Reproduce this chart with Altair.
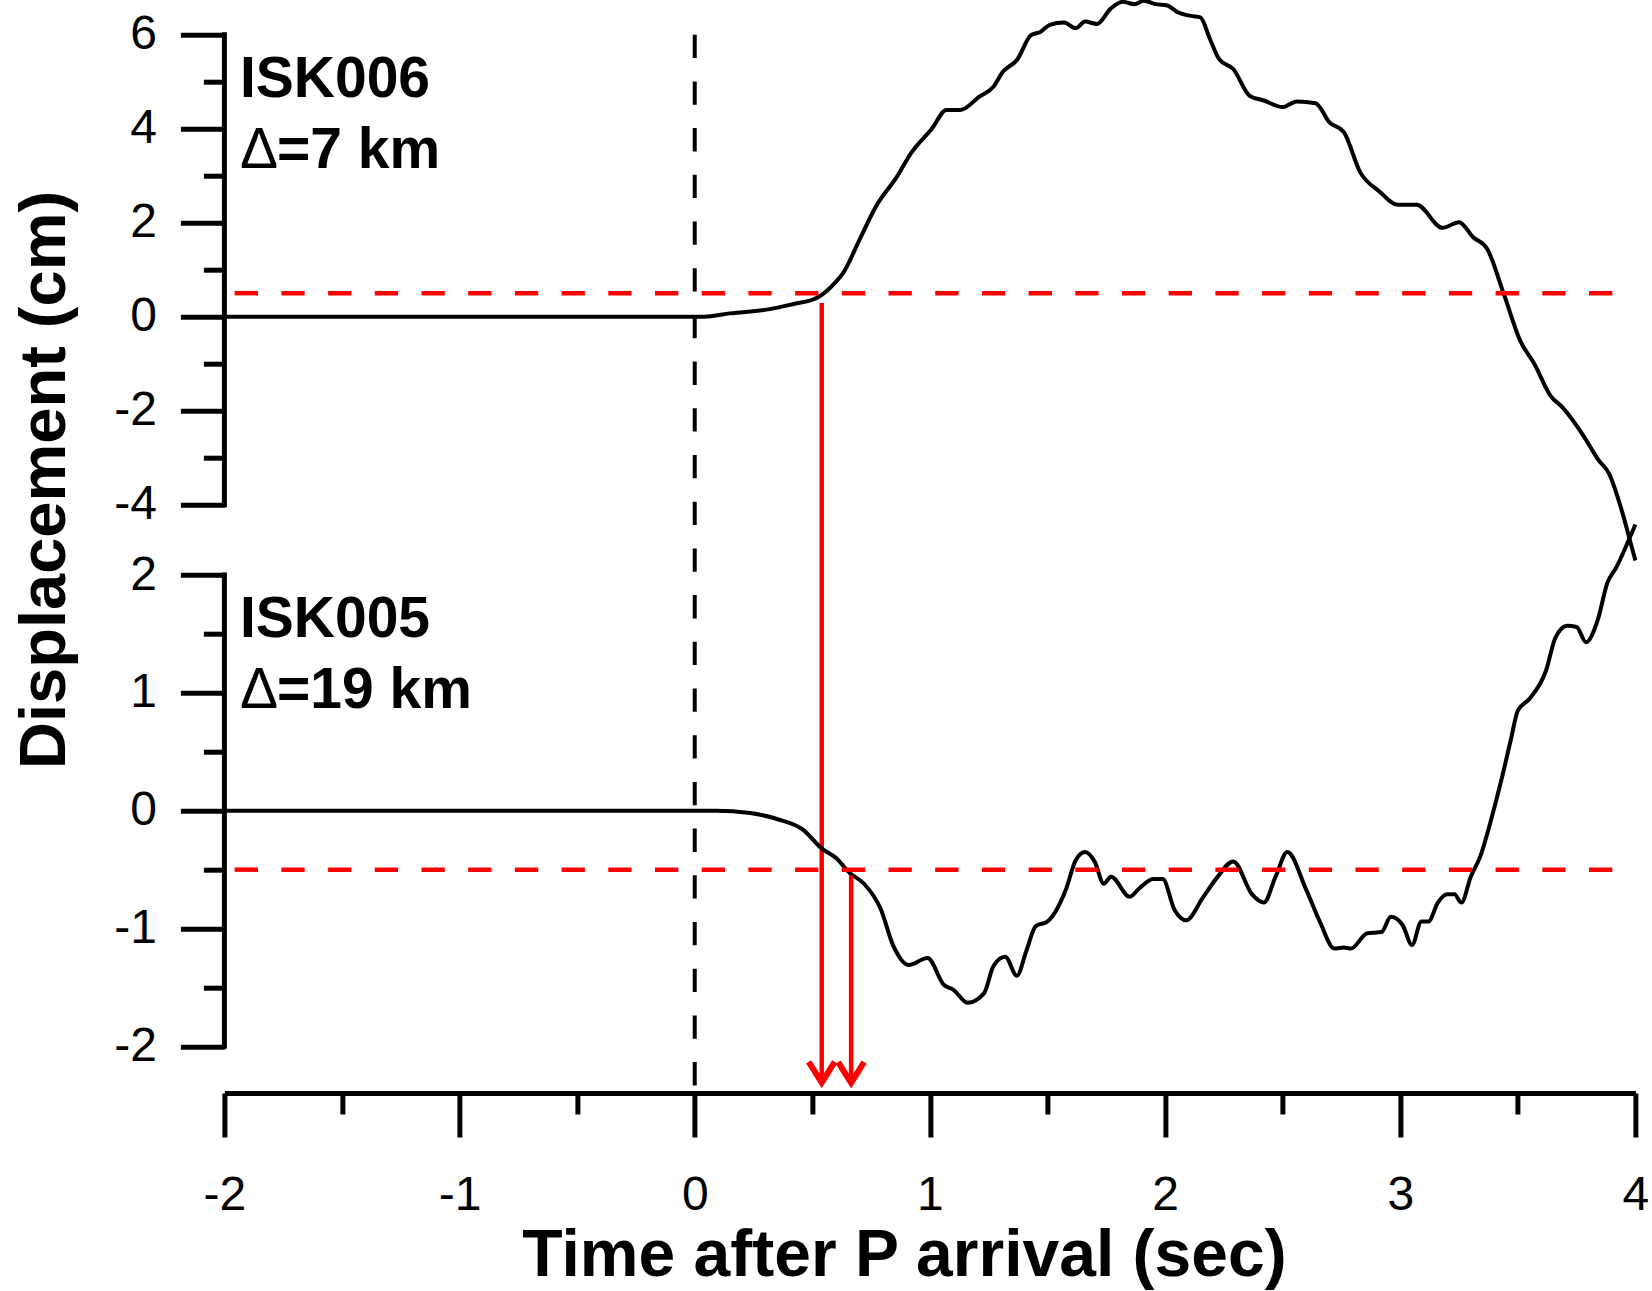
import altair as alt
import pandas as pd

FONT = "Liberation Sans, Arial, sans-serif"

# ---------------- data ----------------
# ISK006 (upper trace), time after P arrival (s) and displacement (cm)
t_isk006 = [-2.0, -1.0, 0.0, 0.04, 0.15, 0.32, 0.43, 0.50, 0.53, 0.60, 0.63, 0.70,
            0.77, 0.86, 0.92, 1.01, 1.07, 1.13, 1.21, 1.27, 1.31, 1.37, 1.43, 1.47,
            1.51, 1.57, 1.62, 1.66, 1.71, 1.77, 1.82, 1.87, 1.91, 1.96, 2.01, 2.05,
            2.11, 2.15, 2.19, 2.23, 2.29, 2.36, 2.42, 2.50, 2.56, 2.64, 2.70, 2.76,
            2.83, 2.91, 2.99, 3.07, 3.18, 3.25, 3.31, 3.37, 3.44, 3.51, 3.57, 3.64,
            3.69, 3.78, 3.84, 3.89, 3.94, 3.98, 4.00]
d_isk006 = [0.0, 0.0, 0.0, 0.0, 0.07, 0.16, 0.28, 0.36, 0.43, 0.74, 0.92, 1.63,
            2.34, 2.98, 3.48, 4.01, 4.40, 4.40, 4.68, 4.89, 5.21, 5.46, 5.99, 6.06,
            6.21, 6.26, 6.14, 6.28, 6.23, 6.56, 6.70, 6.65, 6.72, 6.65, 6.62, 6.49,
            6.40, 6.37, 5.92, 5.48, 5.27, 4.70, 4.60, 4.46, 4.58, 4.54, 4.13, 3.93,
            3.07, 2.67, 2.38, 2.38, 1.89, 2.01, 1.69, 1.44, 0.49, -0.51, -1.00, -1.69,
            -1.93, -2.54, -3.03, -3.36, -4.09, -4.82, -5.19]

# ISK005 (lower trace)
t_isk005 = [-2.0, -1.0, 0.0, 0.09, 0.235, 0.35, 0.46, 0.54, 0.60, 0.66, 0.72, 0.79,
            0.845, 0.91, 0.99, 1.06, 1.10, 1.16, 1.23, 1.27, 1.32, 1.37, 1.41, 1.45,
            1.50, 1.58, 1.62, 1.66, 1.70, 1.74, 1.77, 1.85, 1.89, 1.95, 1.99, 2.04,
            2.09, 2.16, 2.22, 2.29, 2.37, 2.42, 2.47, 2.52, 2.60, 2.66, 2.72, 2.76,
            2.79, 2.86, 2.92, 2.96, 3.01, 3.05, 3.09, 3.12, 3.16, 3.20, 3.23, 3.26,
            3.30, 3.34, 3.39, 3.43, 3.47, 3.50, 3.55, 3.62, 3.66, 3.71, 3.75, 3.79,
            3.84, 3.88, 3.92, 3.97, 4.00]
d_isk005 = [0.0, 0.0, 0.0, 0.0, -0.02, -0.07, -0.16, -0.32, -0.40, -0.53, -0.62, -0.83,
            -1.15, -1.31, -1.25, -1.48, -1.52, -1.63, -1.55, -1.32, -1.24, -1.40, -1.19, -0.98,
            -0.94, -0.66, -0.42, -0.35, -0.43, -0.62, -0.56, -0.73, -0.66, -0.58, -0.58, -0.84,
            -0.93, -0.74, -0.57, -0.43, -0.71, -0.78, -0.56, -0.35, -0.67, -0.95, -1.17, -1.16,
            -1.17, -1.04, -1.03, -0.90, -0.97, -1.14, -0.94, -0.94, -0.78, -0.71, -0.71, -0.78,
            -0.56, -0.39, -0.05, 0.26, 0.60, 0.85, 0.95, 1.19, 1.47, 1.57, 1.56, 1.43,
            1.62, 1.93, 2.07, 2.29, 2.43]

stations = ["ISK006", "ISK005"]
distances = ["=7 km", "=19 km"]
thresholds = [0.5, -0.5]                 # red dashed thresholds (cm)
pick_times = [0.54, 0.665]               # red arrows (s)
pick_start = [0.29, -0.55]               # displacement where each arrow starts

x_ticks = [-2, -1.5, -1, -0.5, 0, 0.5, 1, 1.5, 2, 2.5, 3, 3.5, 4]
top_ticks = [-4, -3, -2, -1, 0, 1, 2, 3, 4, 5, 6]
bot_ticks = [-2, -1.5, -1, -0.5, 0, 0.5, 1, 1.5, 2]

X_DOMAIN = [-2, 4]
TOP_DOMAIN = [-16.52, 6]      # top panel scale (axis drawn from -4 to 6)
BOT_DOMAIN = [-2.396, 6.587]  # bottom panel scale (axis drawn from -2 to 2)

# label anchor positions (data units)
TEXT_T = -1.934
TOP_TEXT_Y = [4.674, 3.164]
BOT_TEXT_Y = [1.475, 0.872]

W, H = 1411, 1058.3

xs = alt.Scale(domain=X_DOMAIN, nice=False, zero=False)
ys_top = alt.Scale(domain=TOP_DOMAIN, nice=False, zero=False)
ys_bot = alt.Scale(domain=BOT_DOMAIN, nice=False, zero=False)

x_axis = alt.Axis(
    values=x_ticks,
    labelExpr="datum.value % 1 === 0 ? '' + datum.value : ''",
    tickSize=44, tickWidth=5, tickColor="black",
    tickDash={"condition": {"test": "datum.value % 1 !== 0", "value": [21, 100]},
              "value": [1000, 1]},
    domainWidth=5, domainColor="black",
    labelFont=FONT, labelFontSize=48, labelColor="black", labelPadding=34,
    labelFlush=False, labelOverlap=False,
    grid=False,
    title="Time after P arrival (sec)", titleFont=FONT, titleFontSize=66,
    titleFontWeight="bold", titleColor="black",
    titleX=679.6, titleY=182, titleBaseline="alphabetic", titleAlign="center",
)


def y_axis(values, parity, title=None):
    kw = dict(
        values=values, orient="left",
        labelExpr=f"datum.value % {parity} === 0 ? '' + datum.value : ''",
        tickSize=44, tickWidth=5, tickColor="black",
        tickDash={"condition": {"test": f"datum.value % {parity} !== 0", "value": [21, 100]},
                  "value": [1000, 1]},
        domain=False,
        labelFont=FONT, labelFontSize=48, labelColor="black", labelPadding=24,
        labelOverlap=False, labelFlush=False, grid=False,
    )
    if title:
        kw.update(title=title, titleFont=FONT, titleFontSize=65, titleFontWeight="bold",
                  titleColor="black", titleAngle=270, titleX=-160.4, titleY=444.7,
                  titleBaseline="alphabetic", titleAlign="center")
    else:
        kw.update(title=None)
    return alt.Axis(**kw)


top_df = pd.DataFrame({"t": t_isk006, "d": d_isk006})
bot_df = pd.DataFrame({"t": t_isk005, "d": d_isk005})


def X(field):
    # every layer carries the same x axis definition so the shared axis merges cleanly
    return alt.X(field, type="quantitative", scale=xs, axis=x_axis)


def panel(df, yscale, axis, tick_lo, tick_hi, thr, pick_t, pick_y, tip_y,
          text_y, name, dist, first):
    curve = alt.Chart(df).mark_line(color="black", strokeWidth=4,
                                    interpolate="monotone", clip=False).encode(
        x=X("t"),
        y=alt.Y("d:Q", scale=yscale, axis=axis),
    )
    spine = alt.Chart(pd.DataFrame({"t": [X_DOMAIN[0]], "lo": [tick_lo], "hi": [tick_hi]})
                      ).mark_rule(color="black", strokeWidth=5, strokeCap="square").encode(
        x=X("t"),
        y=alt.Y("lo:Q", scale=yscale, axis=None), y2="hi:Q")
    thr_line = alt.Chart(pd.DataFrame({"t": [X_DOMAIN[0]], "b": [X_DOMAIN[1]], "v": [thr]})
                         ).mark_rule(color="red", strokeWidth=4.5, strokeDash=[23.3, 23.4],
                                     strokeDashOffset=36.4).encode(
        x=X("t"), x2="b:Q",
        y=alt.Y("v:Q", scale=yscale, axis=None))
    arrow_df = pd.DataFrame({"t": [pick_t], "s": [pick_y], "e": [tip_y]})
    shaft = alt.Chart(arrow_df).mark_rule(color="red", strokeWidth=4.5).encode(
        x=X("t"),
        y=alt.Y("s:Q", scale=yscale, axis=None), y2="e:Q")
    head = alt.Chart(arrow_df).mark_point(
        shape="M-1,-1.6L0,0L1,-1.6", size=676, filled=False, stroke="red",
        strokeWidth=6, strokeJoin="miter", opacity=1).encode(
        x=X("t"),
        y=alt.Y("e:Q", scale=yscale, axis=None))
    txt_df = pd.DataFrame({"t": [TEXT_T], "y1": [text_y[0]], "y2": [text_y[1]],
                           "name": [name], "dist": [dist], "delta": ["\u0394"]})
    name_txt = alt.Chart(txt_df).mark_text(
        align="left", baseline="alphabetic", font=FONT, fontSize=57,
        fontWeight="bold", color="black").encode(
        x=X("t"),
        y=alt.Y("y1:Q", scale=yscale, axis=None), text="name:N")
    delta_txt = alt.Chart(txt_df).mark_text(
        align="left", baseline="alphabetic", font=FONT, fontSize=57,
        fontWeight="normal", color="black").encode(
        x=X("t"),
        y=alt.Y("y2:Q", scale=yscale, axis=None), text="delta:N")
    dist_txt = alt.Chart(txt_df).mark_text(
        align="left", baseline="alphabetic", font=FONT, fontSize=57, dx=37,
        fontWeight="bold", color="black").encode(
        x=X("t"),
        y=alt.Y("y2:Q", scale=yscale, axis=None), text="dist:N")
    layers = [curve, thr_line, spine, shaft, head, name_txt, delta_txt, dist_txt]
    if first:
        zero = alt.Chart(pd.DataFrame({"t": [0], "a": [TOP_DOMAIN[1]], "b": [TOP_DOMAIN[0]]})
                         ).mark_rule(color="black", strokeWidth=4,
                                     strokeDash=[23.3, 23.4]).encode(
            x=X("t"),
            y=alt.Y("a:Q", scale=yscale, axis=None), y2="b:Q")
        layers.append(zero)
    return layers


top_layers = panel(top_df, ys_top, y_axis(top_ticks, 2, "Displacement (cm)"), -4, 6,
                   thresholds[0], pick_times[0], pick_start[0], -16.30,
                   TOP_TEXT_Y, stations[0], distances[0], True)
bot_layers = panel(bot_df, ys_bot, y_axis(bot_ticks, 1), -2, 2,
                   thresholds[1], pick_times[1], pick_start[1], -2.31,
                   BOT_TEXT_Y, stations[1], distances[1], False)

chart = alt.layer(*(top_layers + bot_layers)).resolve_scale(y="independent").properties(
    width=W, height=H,
    autosize=alt.AutoSizeParams(type="none"),
    padding={"left": 224.4, "top": 34.7, "right": 16.6, "bottom": 198},
    background="white",
).configure_view(stroke=None)

chart.save("out.html", embed_options={"renderer": "svg", "actions": False})
